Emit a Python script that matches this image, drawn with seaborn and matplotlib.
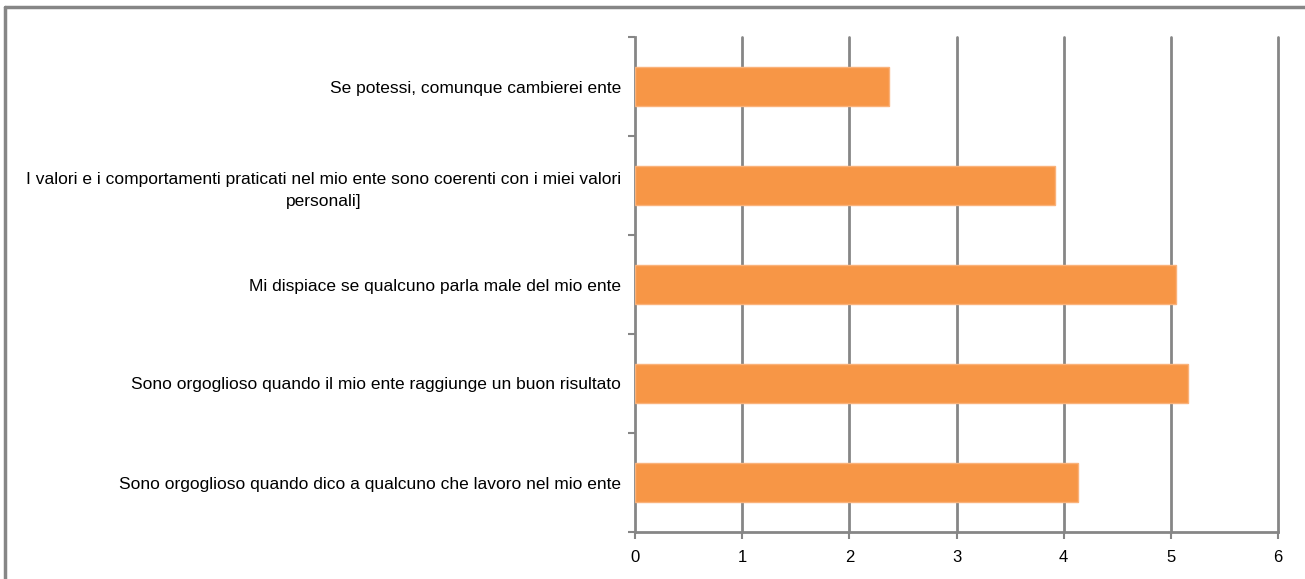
import matplotlib
matplotlib.use("Agg")
import matplotlib.pyplot as plt
import seaborn as sns
import pandas as pd
from matplotlib.lines import Line2D
from matplotlib.ticker import FixedLocator

categories = [
    "Se potessi, comunque cambierei ente",
    "I valori e i comportamenti praticati nel mio ente sono coerenti con i miei valori\npersonali]",
    "Mi dispiace se qualcuno parla male del mio ente",
    "Sono orgoglioso quando il mio ente raggiunge un buon risultato",
    "Sono orgoglioso quando dico a qualcuno che lavoro nel mio ente",
]
values = [2.37, 3.92, 5.05, 5.16, 4.13]
x_ticks = [0, 1, 2, 3, 4, 5, 6]

df = pd.DataFrame({"cat": categories, "val": values})

sns.set_theme(style="white")
plt.rcParams["font.family"] = ["Liberation Sans", "DejaVu Sans"]

W, H = 1305, 579
fig = plt.figure(figsize=(W / 100, H / 100), dpi=100)
ax = fig.add_axes([635 / W, 1 - 532 / H, (1278 - 635) / W, (532 - 37) / H])

grid_c = "#868686"
sns.barplot(data=df, x="val", y="cat", orient="h", color="#F79646",
            width=0.4, edgecolor="#FAB27A", linewidth=1, ax=ax, saturation=1, zorder=3)

ax.set_xlim(0, 6)
ax.set_ylim(4.5, -0.5)
ax.set_xticks(x_ticks)
ax.set_xticklabels([str(t) for t in x_ticks])
ax.set_xlabel("")
ax.set_ylabel("")

for t in x_ticks[1:]:
    ax.axvline(t, color=grid_c, lw=2, zorder=1, clip_on=False)

for s in ["top", "right"]:
    ax.spines[s].set_visible(False)
for s in ["left", "bottom"]:
    ax.spines[s].set_color(grid_c)
    ax.spines[s].set_linewidth(2)

ax.yaxis.set_minor_locator(FixedLocator([-0.5, 0.5, 1.5, 2.5, 3.5, 4.5]))
ax.tick_params(axis="y", which="major", length=0, pad=10, labelsize=12.5, colors="#000000")
ax.tick_params(axis="y", which="minor", length=5, width=1.5, color=grid_c, left=True)
ax.tick_params(axis="x", which="major", length=5, width=1.5, color=grid_c, bottom=True,
               labelsize=12, labelcolor="#000000", pad=8)
for lbl in ax.get_yticklabels():
    lbl.set_multialignment("center")
    lbl.set_linespacing(1.6)

# outer frame
fig.add_artist(Line2D([5 / W, 1], [1 - 7 / H, 1 - 7 / H], color=grid_c, lw=2.5,
                      transform=fig.transFigure))
fig.add_artist(Line2D([5 / W, 5 / W], [0, 1 - 7 / H], color=grid_c, lw=2.5,
                      transform=fig.transFigure))

fig.savefig("out.png", dpi=100)
